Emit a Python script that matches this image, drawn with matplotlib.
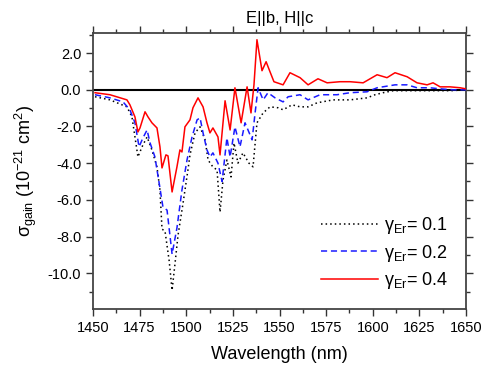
import matplotlib
matplotlib.use("Agg")
import matplotlib.pyplot as plt
from matplotlib.ticker import MultipleLocator, FormatStrFormatter

plt.rcParams['font.family'] = ['Liberation Sans', 'DejaVu Sans']
plt.rcParams['mathtext.fontset'] = 'custom'
plt.rcParams['mathtext.rm'] = 'Liberation Sans'
plt.rcParams['mathtext.it'] = 'Liberation Sans'

# gamma_Er = 0.1 (black dotted)
wl_01 = [1451.1, 1459.1, 1468.2, 1470.9, 1472.5, 1474.1, 1476.3, 1479.0, 1481.6, 1484.3,
         1485.9, 1487.0, 1488.6, 1490.8, 1492.4, 1494.0, 1495.6, 1498.3, 1500.9, 1502.0,
         1504.7, 1507.4, 1510.1, 1511.7, 1514.3, 1516.5, 1518.1, 1519.7, 1521.8, 1524.0,
         1525.6, 1527.7, 1530.4, 1533.6, 1535.8, 1537.9, 1541.2, 1544.9, 1549.2, 1551.9,
         1556.7, 1561.0, 1565.3, 1570.1, 1578.7, 1587.8, 1596.9, 1601.2, 1605.5, 1610.9,
         1618.4, 1641.4, 1650.0]
g_01 = [-0.38, -0.55, -0.93, -1.48, -2.57, -3.66, -3.11, -2.57, -3.28, -4.21,
        -5.46, -7.6, -7.7, -9.29, -10.93, -9.45, -7.92, -6.17, -4.37, -3.55,
        -2.35, -2.02, -2.73, -3.83, -4.21, -4.37, -6.67, -4.92, -3.83, -4.75,
        -2.9, -4.0, -3.44, -4.0, -4.2, -1.80, -1.26, -0.93, -0.98, -1.09,
        -0.82, -0.93, -0.93, -0.71, -0.55, -0.55, -0.44, -0.27, -0.16, -0.05,
        -0.05, -0.05, 0.0]

# gamma_Er = 0.2 (blue dashed)
wl_02 = [1451.1, 1459.1, 1466.1, 1469.8, 1472.5, 1474.7, 1476.8, 1479.0, 1480.6, 1483.2,
         1485.9, 1487.5, 1489.7, 1492.4, 1495.0, 1497.7, 1500.4, 1503.1, 1505.8, 1507.4,
         1509.0, 1511.1, 1512.7, 1514.3, 1517.0, 1519.2, 1521.8, 1523.5, 1526.1, 1528.8,
         1531.5, 1535.3, 1536.9, 1538.5, 1541.2, 1543.8, 1547.6, 1551.9, 1554.6, 1561.0,
         1565.3, 1571.7, 1580.8, 1587.8, 1596.9, 1602.3, 1611.9, 1618.4, 1623.7, 1630.7,
         1636.1, 1643.0, 1650.0]
g_02 = [-0.27, -0.44, -0.66, -1.09, -1.80, -3.11, -2.62, -2.19, -2.90, -3.66,
        -5.36, -6.39, -6.56, -8.96, -7.54, -5.46, -3.83, -2.57, -1.64, -1.53,
        -2.35, -3.28, -3.66, -3.44, -4.0, -5.0, -2.62, -3.66, -2.02, -3.11,
        -1.80, -2.73, -1.26, 0.11, -0.55, -0.16, -0.44, -0.66, -0.38, -0.27,
        -0.55, -0.27, -0.27, -0.16, -0.11, 0.11, 0.27, 0.27, 0.11, 0.11,
        0.05, 0.0, 0.0]

# gamma_Er = 0.4 (red solid)
wl_04 = [1451.1, 1459.1, 1468.2, 1469.8, 1472.5, 1474.1, 1475.2, 1477.9, 1479.5, 1481.6,
         1484.3, 1485.9, 1487.0, 1489.1, 1490.2, 1492.4, 1495.0, 1496.6, 1497.7, 1499.3,
         1502.0, 1503.6, 1506.3, 1509.0, 1511.1, 1512.7, 1514.3, 1517.0, 1518.1, 1520.8,
         1523.5, 1526.1, 1529.4, 1532.6, 1534.7, 1536.3, 1537.9, 1540.6, 1542.8, 1544.9,
         1547.0, 1551.9, 1555.6, 1561.0, 1565.3, 1570.6, 1575.5, 1582.4, 1587.8, 1594.8,
         1602.3, 1607.6, 1611.9, 1618.4, 1623.7, 1629.1, 1632.3, 1636.1, 1641.4, 1646.8,
         1650.0]
g_04 = [-0.16, -0.27, -0.55, -0.82, -1.48, -2.30, -2.08, -1.20, -1.48, -1.80,
        -2.08, -3.11, -4.26, -3.55, -3.6, -5.57, -4.21, -3.28, -3.39, -2.02,
        -1.64, -0.98, -0.44, -0.93, -1.80, -2.35, -2.08, -2.57, -3.55, -0.60,
        -2.19, 0.11, -1.80, 0.16, -1.26, 0.27, 2.73, 1.04, 1.53, 0.98,
        0.44, 0.27, 0.93, 0.66, 0.27, 0.60, 0.38, 0.44, 0.44, 0.38,
        0.82, 0.66, 0.93, 0.71, 0.38, 0.27, 0.38, 0.16, 0.16, 0.11,
        0.05]

labels = [r'$\gamma_{\rm Er}$= 0.1', r'$\gamma_{\rm Er}$= 0.2', r'$\gamma_{\rm Er}$= 0.4']

fig = plt.figure(figsize=(4.83, 3.70), dpi=100)
ax = fig.add_axes([0.1925, 0.165, 0.7725, 0.746])

ax.axhline(0, color='black', lw=1.5, zorder=1)
ax.plot(wl_01, g_01, color='black', ls=(0, (1, 2)), lw=1.1, label=labels[0], zorder=2)
ax.plot(wl_02, g_02, color='#1a1aff', ls=(0, (4, 2.5)), lw=1.1, label=labels[1], zorder=3)
ax.plot(wl_04, g_04, color='#ff0000', ls='-', lw=1.1, label=labels[2], zorder=4)

ax.set_xlim(1450, 1650)
ax.set_ylim(-11.95, 3.1)
ax.xaxis.set_major_locator(MultipleLocator(25))
ax.xaxis.set_minor_locator(MultipleLocator(12.5))
ax.yaxis.set_major_locator(MultipleLocator(2))
ax.yaxis.set_minor_locator(MultipleLocator(1))
ax.yaxis.set_major_formatter(FormatStrFormatter('%.1f'))

ax.tick_params(which='both', direction='out', top=True, right=True,
               labeltop=False, labelright=False, labelsize=10.5, width=1.0, color='#333333')
ax.tick_params(which='major', length=5)
ax.tick_params(which='minor', length=3)
for s in ax.spines.values():
    s.set_linewidth(1.3)
    s.set_color('#444444')

ax.set_xlabel('Wavelength (nm)', fontsize=13, labelpad=8)
ax.set_ylabel(r'$\sigma_{\rm gain}$ (10$^{-21}$ cm$^{2}$)', fontsize=13, labelpad=6)
ax.set_title('E||b, H||c', fontsize=12, pad=7)

ax.legend(loc='lower right', frameon=False, fontsize=13, handlelength=3.2,
          handletextpad=0.3, labelspacing=0.35, borderaxespad=0.6)

fig.savefig('out.png', dpi=100)
